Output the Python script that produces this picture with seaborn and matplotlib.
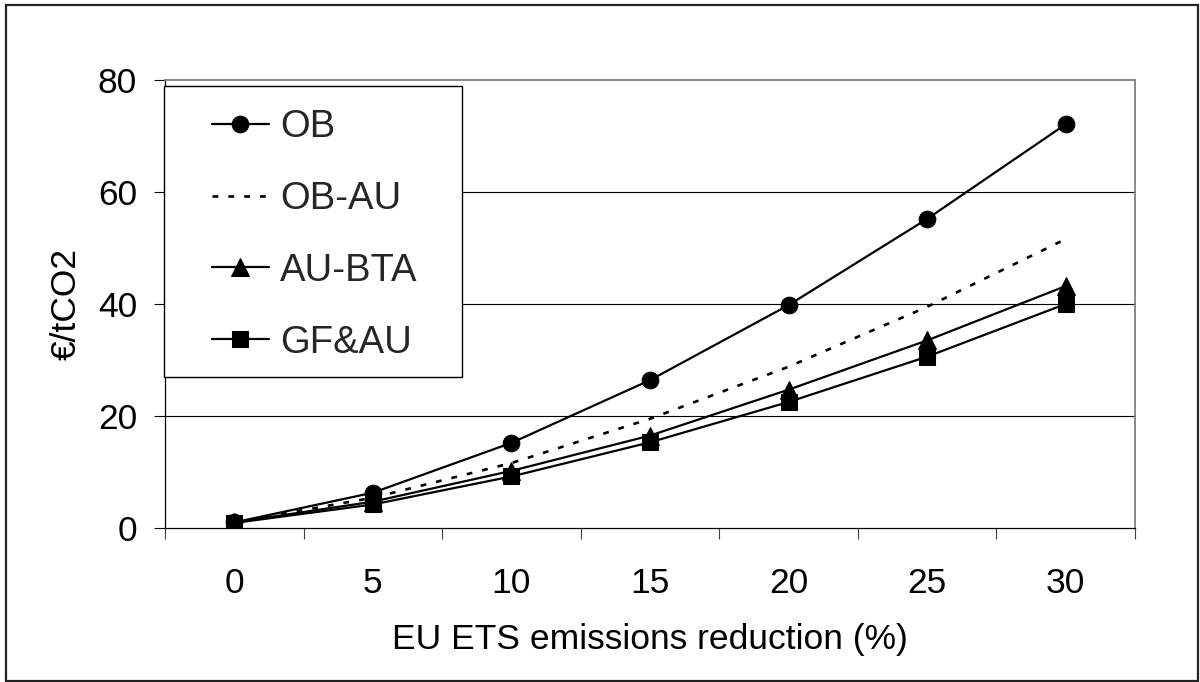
import matplotlib
matplotlib.use("Agg")
import matplotlib.pyplot as plt
from matplotlib.patches import Rectangle
from matplotlib.ticker import FixedLocator, NullFormatter
import seaborn as sns
import pandas as pd

reduction = [0, 5, 10, 15, 20, 25, 30]
ob = [1.0, 6.3, 15.2, 26.4, 39.8, 55.2, 72.1]
ob_au = [1.0, 5.4, 11.6, 19.5, 28.8, 39.5, 51.6]
au_bta = [1.0, 4.7, 10.2, 16.5, 24.7, 33.5, 43.2]
gf_au = [0.9, 4.2, 9.2, 15.3, 22.5, 30.6, 40.0]
series_names = ["OB", "OB-AU", "AU-BTA", "GF&AU"]
y_ticks = [0, 20, 40, 60, 80]

sns.set_theme(style="white")
plt.rcParams["font.family"] = ["Liberation Sans", "DejaVu Sans"]

fig = plt.figure(figsize=(12, 6.82), dpi=100)
W, H = 1200, 682
ax = fig.add_axes([165 / W, 1 - 528 / H, (1135 - 165) / W, (528 - 80) / H])

styles = [
    dict(marker="o", linestyle="-", markersize=12, lw=1.6),
    dict(marker=None, linestyle=(0, (2.2, 3.8)), markersize=0, lw=1.9),
    dict(marker="^", linestyle="-", markersize=12.5, lw=1.6),
    dict(marker="s", linestyle="-", markersize=11, lw=1.6),
]
for name, vals, st in zip(series_names, [ob, ob_au, au_bta, gf_au], styles):
    df = pd.DataFrame({"x": reduction, "y": vals})
    sns.lineplot(data=df, x="x", y="y", ax=ax, color="black", linewidth=st["lw"],
                 marker=st["marker"], linestyle=st["linestyle"],
                 markersize=st["markersize"], markeredgecolor="black",
                 markerfacecolor="black", label=name, legend=False, zorder=3)

fs = 25.5
ax.set_xlim(-2.5, 32.5)
ax.set_ylim(0, 80)
ax.set_xticks(reduction)
ax.set_xticklabels([str(v) for v in reduction])
ax.xaxis.set_minor_locator(FixedLocator([-2.5 + 5 * i for i in range(8)]))
ax.xaxis.set_minor_formatter(NullFormatter())
ax.tick_params(axis="x", which="major", length=0, pad=28, labelsize=fs, colors="black")
ax.tick_params(axis="x", which="minor", length=8, width=0.8, direction="out", bottom=True, color="#404040")
ax.set_yticks(y_ticks)
ax.tick_params(axis="y", which="major", length=8, width=0.8, direction="out", left=True,
               pad=12, labelsize=fs, colors="black")

for y in y_ticks[1:-1]:
    ax.axhline(y, color="black", linewidth=0.8, zorder=1)

ax.spines["left"].set_color("black")
ax.spines["bottom"].set_color("black")
ax.spines["left"].set_linewidth(0.9)
ax.spines["bottom"].set_linewidth(0.9)
ax.spines["top"].set_color("#808080")
ax.spines["right"].set_color("#808080")
ax.spines["top"].set_linewidth(1.3)
ax.spines["right"].set_linewidth(1.3)

ax.set_xlabel("EU ETS emissions reduction (%)", fontsize=fs, labelpad=16.5, color="black")
ax.set_ylabel("€/tCO2", fontsize=fs, labelpad=11, color="black")

# legend box
box = Rectangle((164 / W, 1 - 377 / H), (462 - 164) / W, (377 - 86) / H,
                transform=fig.transFigure, facecolor="white", edgecolor="black",
                linewidth=1.0, zorder=5)
fig.patches.append(box)
handles, labels = ax.get_legend_handles_labels()
leg = fig.legend(handles, labels, loc="upper left", bbox_to_anchor=(212 / W, 1 - 109 / H),
                 frameon=False, fontsize=27.5, handlelength=1.49, handletextpad=0.29,
                 labelspacing=0.94, borderpad=0, borderaxespad=0)
leg.set_zorder(6)

# outer border
fig.patches.append(Rectangle((6 / W, 1 - 681 / H), (1198 - 6) / W, (681 - 5) / H,
                             transform=fig.transFigure, facecolor="none",
                             edgecolor="#222222", linewidth=1.6, zorder=0))

fig.savefig("out.png", dpi=100)
